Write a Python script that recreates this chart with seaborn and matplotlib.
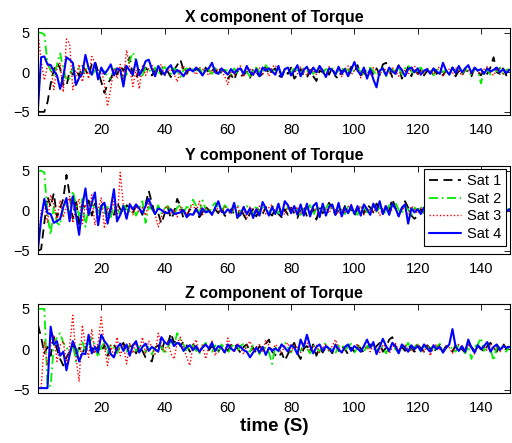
import numpy as np
import pandas as pd
import matplotlib
matplotlib.use("Agg")
import matplotlib.pyplot as plt
import seaborn as sns

t = list(range(0, 150))
sats = ["Sat 1", "Sat 2", "Sat 3", "Sat 4"]
titles = ["X component of Torque", "Y component of Torque", "Z component of Torque"]
xticks = [20, 40, 60, 80, 100, 120, 140]
yticks = [-5, 0, 5]

x_sat1 = [-5.0, -5.0, -5.0, -3.8, -1.5, 0.3, 1.2, 0.5, -1.6, -1.8, 0.2, -0.3, 0.4, -0.5, 0.8,
          0.3, -0.4, 1.0, 1.4, 0.1, -1.2, -2.6, -1.5, -0.8, 0.2, -0.3, 0.8, 0.2, 1.0, 1.9,
          -0.5, -0.8, 0.3, -0.2, 0.6, 0.1, -0.4, 0.2, 0.7, -0.3, 0.4, 0.1, -0.6, 0.3, 0.9,
          1.6, 0.3, -0.2, 0.5, 0.0, 0.4, 0.2, -0.3, 0.6, -0.1, 0.2, 0.5, -0.4, 0.1, 0.3,
          -0.8, -0.3, -1.0, 0.2, -0.5, -0.3, 0.1, -0.7, 0.4, 0.0, -0.5, -0.2, 0.8, -0.3, 0.2,
          0.5, -0.4, -0.6, 0.3, -0.2, 0.6, -0.8, -0.3, 0.4, -0.4, -0.7, 0.3, -0.5, -1.1, 0.2,
          0.0, 0.5, -0.3, 0.6, -0.5, -0.8, 0.2, 0.4, -0.2, 0.7, 0.1, 0.9, -0.4, 0.0, -0.5,
          0.3, -0.2, 0.5, -0.3, 1.0, 1.2, 0.4, -0.6, 0.1, 0.9, -0.8, -0.2, 0.7, -0.5, 0.6,
          -0.2, 0.3, -0.4, 0.2, -0.1, 0.4, -0.2, 0.1, -0.4, 0.3, -0.3, 0.6, -0.5, 0.2, -0.4,
          0.3, 0.1, -0.5, 0.5, 0.1, -0.4, 0.3, -0.2, 0.6, 1.9, 0.0, -0.2, 0.5, -0.4, 0.3]
x_sat2 = [5.0, 5.0, 4.8, 1.2, 0.2, -0.4, 0.9, 2.4, 0.5, -1.0, -0.8, 0.6, 0.4, 0.5, -0.2,
          0.3, 0.8, -0.3, 0.2, -0.2, 0.4, 0.1, -0.6, -0.8, 0.4, 0.5, 0.3, -0.6, -0.3, 1.5,
          2.5, 1.4, 0.2, -0.4, 0.5, 0.3, 0.0, 0.6, -0.3, 0.4, 0.7, 0.1, -0.2, 0.5, 0.2,
          -0.6, 0.3, 0.5, 0.2, 0.4, 0.1, 0.5, -0.1, 0.6, 0.3, -0.2, 0.4, 0.5, 0.1, 0.3,
          0.2, -0.3, 0.5, -0.1, 0.3, 0.4, 0.0, -0.5, 0.3, 0.6, 0.1, -0.2, 0.9, 0.2, 0.4,
          0.1, 0.5, -0.2, 0.4, 0.3, -0.1, 0.6, 0.2, -0.3, 0.5, 0.1, 0.4, -0.2, 0.3, 0.5,
          -0.1, 0.4, 0.2, 0.5, -0.3, 0.3, 0.6, 0.0, 0.4, -0.2, 0.3, 0.5, 0.1, -0.3, 0.4,
          0.6, 0.2, -0.4, 0.3, 0.5, -0.6, 0.2, 0.4, 0.0, 0.7, -0.3, 0.5, 0.9, 0.1, -0.2,
          0.4, 0.6, -0.1, 0.3, 0.5, -0.4, 0.2, 0.6, 0.0, 0.3, -0.3, 0.5, 0.2, 0.6, -0.2,
          0.4, 0.1, -0.4, 0.5, 0.3, -1.4, 0.2, 0.4, -0.3, 0.5, 0.1, 0.6, -0.2, 0.3, 0.4]
x_sat3 = [5.0, 1.5, -1.0, 0.8, 1.0, -2.2, 0.5, 1.2, -2.5, 4.2, 3.6, -2.2, -0.5, 1.0, -1.2,
          0.5, -0.8, 2.0, 1.2, -0.6, 0.4, -1.5, -4.3, -2.0, 0.5, -0.8, 1.0, -1.0, 2.8, 0.6,
          -1.8, 0.3, -2.1, 0.8, -0.4, 0.5, 1.0, -0.3, 0.6, 1.0, -0.5, 0.2, 0.4, -0.2, -1.2,
          0.3, 0.8, -0.2, 0.5, 0.2, -0.3, 0.6, 0.4, 0.1, -0.4, 0.3, -0.2, 0.5, 0.2, -0.5,
          -1.6, 0.2, -0.3, 0.5, 0.8, -0.6, 0.3, 0.5, -0.4, 0.2, 0.6, -0.2, 0.4, -0.5, 0.7,
          0.9, 0.2, -0.3, 0.4, 0.6, -0.5, 0.3, -0.2, 0.7, 0.1, -0.4, 0.5, 0.2, -0.3, 0.6,
          0.1, -0.4, 0.7, 0.3, -0.2, 0.5, -0.6, 0.4, 0.8, -0.3, 0.2, 0.5, -0.7, 0.3, 0.1,
          -0.3, 0.6, 0.2, -0.4, 0.5, 0.3, -0.2, 0.6, 0.1, -0.5, 0.4, 0.2, -0.3, 0.5, 0.8,
          -0.4, 0.3, -0.2, 0.5, 0.1, -0.3, 0.4, 0.7, -0.5, 0.2, 0.4, -0.2, 0.6, 0.1, -0.4,
          0.5, 0.2, -0.3, 0.6, 0.1, -0.2, 0.4, 0.7, 0.0, -0.4, 0.3, 0.5, -0.2, 0.2, 0.4]
x_sat4 = [-4.5, 1.9, 2.0, 1.0, 0.9, 0.2, -0.4, -2.1, -0.5, 1.9, 1.6, 1.2, -1.6, -0.7, -0.2,
          2.2, 0.5, -0.3, 1.2, -0.9, 0.6, -0.2, 0.3, 1.0, -0.4, 0.5, 0.3, -1.8, 0.8, 0.2,
          -0.3, 1.6, -0.4, 0.3, 1.4, 1.6, 0.4, -0.5, 0.8, 0.2, -0.3, 0.5, 0.9, -0.2, 0.3,
          0.0, -0.5, 0.2, 0.4, 0.1, 0.6, 0.2, -0.4, 0.3, 0.5, 1.2, 0.0, -0.2, 0.5, 0.1,
          -0.3, 0.4, -0.1, 0.3, 0.5, -0.2, 0.8, 0.0, -0.3, 0.4, -0.5, 0.6, 0.2, 0.5, 0.1,
          -0.3, 0.8, -0.6, 0.4, 0.6, -0.4, 0.2, 0.9, -0.5, 0.3, 0.7, -0.2, 0.6, 0.0, 0.8,
          0.2, -0.6, 0.5, 0.3, -0.3, 0.7, -0.2, 0.4, -0.5, 0.3, 1.3, 0.2, -0.3, 0.6, -0.8,
          0.4, -0.9, -1.9, 0.2, 0.5, -0.4, 0.6, 0.1, -0.2, 0.8, 0.3, -0.5, 0.4, 0.6, 0.0,
          0.5, -0.3, 0.2, 0.4, -0.2, 0.5, 0.1, -0.2, 1.2, 0.2, -0.3, 0.6, -0.1, 0.8, 0.0,
          0.5, 0.9, -0.1, 0.6, 0.2, 0.4, -0.2, 0.5, 0.1, 0.3, 0.6, 0.0, 0.4, -0.1, 0.3]

y_sat1 = [-5.0, -4.8, -1.5, 1.8, 0.5, 2.2, -0.8, 0.3, 1.5, 4.5, 2.0, -1.0, 1.5, -2.0, 0.8,
          0.4, 1.3, -0.6, 0.9, -0.3, 0.5, 1.2, -0.8, 0.3, -0.5, 1.0, 0.2, -0.3, 0.7, 0.4,
          -0.2, 0.6, 0.3, -0.5, 0.8, 2.5, 1.0, -0.5, -0.3, -1.6, -0.4, 0.5, -1.0, -0.3, 1.5,
          0.6, -1.0, -0.6, 0.2, -0.5, 0.3, -0.8, -0.2, 0.5, 0.1, -0.4, 0.2, -0.3, 0.5, -0.6,
          -0.7, 0.2, -0.4, -0.9, 0.3, -0.5, -1.2, -0.3, 0.2, -0.7, 0.1, -0.4, 0.5, -0.2, -0.6,
          0.3, -0.4, -0.8, 0.2, -0.5, 0.4, -0.3, -0.9, 0.2, 0.5, -0.7, -0.2, 0.3, -1.1, 0.4,
          -0.3, 0.2, 1.0, 0.3, -0.5, 0.1, -0.4, 0.6, -0.2, 0.3, -0.6, 0.2, 0.5, -0.3, 0.8,
          0.4, -0.2, 0.9, 0.3, -0.4, 0.6, 0.1, 1.5, 0.3, -0.5, 0.2, 1.2, 0.4, -0.6, -1.0,
          -0.6, 0.2, -0.3, 0.4, 0.6, 0.1, -0.4, 0.3, 0.2, -0.2, 0.5, 0.0, -0.3, 0.4, 0.1,
          -0.2, 0.6, 0.2, -0.3, 0.4, 1.0, 0.3, -0.1, 0.2, 0.5, -0.2, 0.3, 0.1, -0.3, 0.2]
y_sat2 = [5.0, 5.0, 4.8, -0.5, -3.0, 0.5, -1.5, -1.8, 0.4, 1.0, -0.5, 2.5, 0.8, -0.6, 1.5,
          -2.0, 0.4, 1.0, 0.2, -0.5, 0.8, -0.3, 0.5, -0.8, 0.6, 0.3, -0.4, 0.9, 0.2, -0.1,
          0.4, -0.6, 0.3, 1.2, -1.5, 0.5, 0.2, -0.4, 0.7, -0.3, 0.3, 0.6, 0.1, -0.5, 0.4,
          0.8, -0.2, 0.5, 0.3, 1.4, 0.6, -0.4, 1.3, 0.2, -0.3, 0.5, 1.0, 0.4, -0.2, 0.7,
          0.3, -0.5, 0.6, 0.8, -0.3, 0.4, 0.6, 0.1, -0.5, 0.7, -0.2, 0.5, 0.3, -0.4, 0.6,
          0.2, -0.3, 0.5, 0.1, 0.4, -0.2, 0.6, 0.3, -0.5, 0.4, 0.2, 0.7, -0.6, 0.3, 0.5,
          -0.2, 0.4, 0.8, 0.1, -0.3, 0.5, 0.2, -0.4, 0.6, 0.3, 0.0, -0.5, 0.4, 0.6, -0.2,
          0.3, 0.5, -0.1, 0.4, 0.2, -0.4, 0.7, 0.3, 1.0, 0.1, -0.3, 0.5, 0.2, -0.6, 0.4,
          0.1, 0.6, -0.2, 0.3, 0.5, -0.3, 0.4, 0.2, 0.6, -0.1, 0.3, 0.5, -0.2, 0.4, 0.1,
          0.3, -0.3, 0.5, 0.2, 0.4, -0.2, 0.6, 0.1, 0.3, -0.1, 0.4, 0.2, 0.5, 0.0, 0.3]
y_sat3 = [-4.8, 0.0, 1.0, -1.5, 2.0, 0.8, -1.2, 1.3, -0.8, 0.5, 1.8, -1.5, 0.3, 1.5, -1.6,
          0.8, -0.6, 2.0, -1.8, 0.2, 1.6, -2.2, 0.4, -0.3, 1.2, -1.5, 4.8, 0.6, -0.8, 1.0,
          -0.5, 0.8, -0.2, 0.4, -0.6, 1.0, 0.2, -0.4, -2.0, -0.8, 0.3, 0.6, -0.3, 0.2, -0.8,
          0.5, 0.0, -0.4, 0.3, 0.8, -0.2, 1.2, -0.5, 0.3, 0.1, -0.6, 0.4, 0.2, -0.3, 0.5,
          0.0, -0.4, 0.3, 0.6, -0.5, 0.2, -0.9, 0.5, 0.1, -0.3, 0.6, 0.2, -0.4, 0.4, 0.8,
          -0.2, 0.4, 0.1, -0.5, 0.6, 0.3, -0.2, 0.5, -0.4, 0.2, 0.7, -0.3, 0.4, 0.0, -0.6,
          0.5, 0.2, -0.3, 0.6, 0.1, -0.4, 0.3, -0.2, 0.5, 0.8, -0.3, 0.2, 0.6, -0.5, 0.3,
          0.1, -0.2, 0.5, -0.6, 0.3, 0.7, -0.3, 0.2, 0.5, -0.8, 0.4, 0.1, -0.4, 0.6, 0.2,
          -0.3, 0.4, 0.2, -0.5, 0.3, 0.6, 0.0, -0.3, 0.4, 0.2, -0.2, 0.5, 0.1, -0.4, 0.3,
          0.6, -0.1, 0.2, 0.4, -0.3, 0.5, 0.1, -0.2, 0.4, 0.7, -0.1, 0.3, 0.2, -0.4, 0.3]
y_sat4 = [-4.8, -1.0, 1.5, -0.3, -0.4, -1.5, -1.3, -1.0, 0.5, 1.6, -1.3, 1.8, -0.5, -3.0, 0.5,
          2.8, -0.5, 1.0, 2.3, -1.8, 0.6, 1.0, -1.6, 0.3, 2.7, -1.3, -0.5, 0.6, -1.0, 0.8,
          0.2, 0.8, 0.3, -0.3, 0.6, 1.5, 0.4, -0.4, 0.3, 0.1, -0.2, -0.3, 0.2, -0.4, -0.3,
          -0.2, 0.1, -0.8, -0.4, -0.5, 0.2, -0.5, 0.3, -0.2, 0.0, -0.5, 0.4, 1.2, -0.1, -0.3,
          0.2, -0.2, 1.0, -0.8, -0.5, 0.5, -0.4, 0.3, -0.9, 0.2, -0.6, 1.1, 0.3, -0.6, 0.5,
          -0.4, 0.9, -0.6, 1.2, 0.7, -0.3, 0.6, -0.5, 0.8, -0.6, 0.9, -0.7, 0.6, 1.0, -0.8,
          0.9, -0.6, 0.5, 0.8, -0.5, 1.0, -0.7, 0.4, -0.3, 0.7, -0.4, 0.6, -0.6, 0.8, 0.2,
          -0.5, 0.9, 0.0, 1.2, -0.4, 0.6, -0.5, 0.9, 0.3, -0.7, 0.4, 0.8, -1.6, 0.3, -0.2,
          0.2, -0.4, 0.4, 0.1, -0.3, 0.5, 0.2, -0.3, 0.4, 0.0, -0.2, 0.3, 0.1, -0.4, 0.2,
          0.4, -0.2, 0.3, 0.1, -0.3, 0.5, 0.2, 0.0, 0.4, -0.2, 0.3, 0.1, 0.5, -0.1, 0.2]

z_sat1 = [3.0, 1.5, -0.5, 0.3, -0.8, 1.5, 0.0, -1.2, -2.0, -1.0, -0.3, 0.5, -0.8, 0.2, -0.5,
          0.3, -0.4, 0.2, -0.6, 0.4, -0.3, 0.5, -0.8, 0.1, 0.6, -0.2, 0.3, 0.8, -0.4, 0.5,
          0.2, -0.5, 0.4, -0.2, -1.0, -1.2, -1.5, 0.2, 0.5, -0.3, 1.0, 0.6, 2.0, 0.8, 1.2,
          0.4, 1.0, 0.5, -0.3, 0.6, 0.1, -0.4, 0.3, 0.7, -0.1, 0.4, 0.0, -0.3, 0.5, 0.2,
          -0.2, 0.5, 0.8, 0.1, -0.4, 0.3, 0.6, -0.3, 0.2, -0.5, 0.4, 0.0, 0.7, 1.2, -0.3,
          -0.7, -1.0, -0.4, -1.4, -0.6, 0.2, 0.8, -0.5, -1.2, 0.1, 0.4, -0.3, 0.6, -0.8, 0.2,
          -0.4, 0.3, 0.1, -0.5, 0.6, -0.2, 0.4, 0.0, -0.6, 0.2, -0.3, 0.5, 0.1, -0.4, 0.3,
          0.6, -0.2, 0.4, 0.8, -0.3, 0.2, 1.2, 1.5, 0.4, -0.4, 0.3, -0.2, 0.5, 0.1, -0.3,
          0.4, 0.2, -0.3, 0.5, 0.1, -0.5, 0.3, 0.6, -0.2, 0.4, 0.1, -0.3, 0.5, 0.2, 0.0,
          -0.4, 0.6, 0.3, -0.2, 0.5, 0.1, -0.3, 0.4, 0.8, 0.2, -0.3, 0.5, 0.7, 0.1, 0.4]
z_sat2 = [5.0, 5.0, 5.0, -4.5, -4.5, 0.5, 1.5, 2.0, 0.8, 0.3, -0.6, 0.8, -1.5, 0.5, 1.0,
          -0.3, 0.6, 1.4, 0.5, -1.0, 0.3, 0.8, -0.4, 0.6, 0.2, -0.5, 0.4, 0.1, -0.3, 0.5,
          0.8, -0.2, 0.3, 0.6, -0.4, 0.5, -0.6, 0.3, -0.2, 0.4, -0.6, 0.2, 1.0, 0.5, 2.0,
          1.2, 0.6, -0.3, 0.4, 0.5, -0.2, -0.6, 0.3, 0.8, 0.2, -0.3, 0.5, -0.4, 0.6, 0.1,
          -0.5, 0.3, 0.6, -0.2, 0.4, 0.7, 0.0, -0.3, 0.5, 0.2, -0.6, 0.4, 0.1, -0.4, -1.8,
          0.3, -0.3, 0.6, 0.9, 0.2, -0.4, 0.5, 0.3, -0.2, 0.6, 0.1, -0.5, 0.4, 0.2, -0.3,
          0.5, 0.8, -0.2, 0.3, -0.5, 0.4, 0.6, -0.1, 0.3, 0.7, -0.4, 0.2, 0.5, -0.3, 0.4,
          0.1, 0.6, -0.3, 0.4, 0.2, -0.5, 0.3, 0.6, 0.0, -0.4, 0.5, 0.2, 0.8, -0.2, 0.3,
          0.6, -0.3, 0.4, 0.1, 0.5, -0.2, 0.3, 0.7, -0.4, 0.2, 0.5, 0.0, -0.3, 0.6, 0.2,
          -0.5, 0.4, -1.2, 0.3, 0.6, 1.4, -0.2, 0.4, 0.1, -1.4, 0.3, 0.5, 0.2, -0.3, 0.4]
z_sat3 = [-4.8, -4.8, 1.0, -2.0, 0.5, 1.8, -1.5, 0.5, 1.0, -1.8, 0.3, 4.2, -1.0, -4.0, 3.0,
          0.5, -1.0, 2.5, -0.5, 0.8, 4.0, 0.3, -2.0, 0.5, -1.0, 1.5, -0.8, 0.4, -1.8, 0.8,
          -0.5, 1.0, -0.3, 1.5, -0.5, 1.0, 0.3, -0.6, 2.0, 0.5, -0.3, 1.0, -0.5, -1.2, 0.8,
          1.5, 0.2, -1.0, -2.0, 0.5, 1.2, -0.5, 0.6, -1.2, 0.3, 1.0, -0.8, 0.5, 0.2, -0.5,
          1.4, 0.3, -0.4, 0.8, 0.2, -0.6, 0.5, 1.0, -0.2, 0.3, 0.6, -0.4, 1.2, 0.5, -0.3,
          0.6, 0.2, -0.5, 0.4, 0.8, -0.3, 0.5, 0.2, -0.4, 0.6, 0.9, -0.2, 0.3, 0.5, -0.4,
          0.2, 0.6, -0.3, 0.4, 1.2, 0.3, -0.5, 0.2, 0.5, -0.2, 0.4, 0.6, -0.4, 0.3, 0.2,
          -0.3, 0.5, 0.1, -0.4, 0.6, 0.3, -0.5, 0.2, 0.7, -0.2, 0.4, 0.5, 0.0, -0.3, 0.4,
          0.6, 0.2, -0.3, 0.5, -0.8, 0.3, 0.6, 0.0, -0.3, 0.4, 0.2, -0.5, 0.3, 0.6, 0.1,
          -0.3, 0.5, 0.2, -0.6, 0.4, 0.1, 0.3, -0.2, 0.5, 0.0, 0.4, -0.3, 0.2, 0.5, 0.1]
z_sat4 = [-4.8, -4.8, -4.8, -4.8, 2.8, 0.6, 1.0, -0.8, -0.3, -2.6, -0.7, 1.0, 0.0, -1.5, -0.5,
          -0.6, 1.8, -0.5, 0.3, -0.4, 1.8, 1.0, 0.5, -0.6, -1.0, 0.2, 0.7, -0.2, 0.6, -0.8,
          0.5, 1.0, -0.4, 0.3, 0.7, -0.2, 0.3, 0.0, -0.3, 1.5, 0.9, 0.6, 1.2, 0.4, 0.8,
          0.6, -0.2, 0.3, 0.5, -0.1, 0.4, -0.3, 0.2, 0.6, 0.1, 0.8, -0.2, 0.4, 0.2, -0.4,
          0.6, 0.1, -0.2, 0.5, 0.3, -0.1, -0.3, -1.0, -0.4, 0.2, -0.4, 0.3, -0.7, 0.2, -0.2,
          0.1, -0.2, 0.6, 0.2, -0.3, 0.5, 0.2, -0.6, 1.2, 0.3, 1.8, 0.4, -0.5, 0.3, 0.6,
          -0.2, 0.4, 0.1, -0.3, 0.5, 0.0, -0.4, 0.3, 0.6, -0.2, 0.4, 0.1, -0.3, 0.4, 1.2,
          0.2, 0.9, -0.6, 0.3, 1.3, 0.4, -0.2, 0.8, 0.3, -0.5, 0.6, 0.2, -0.3, 0.5, 0.0,
          0.4, -0.2, 0.6, 0.1, -0.3, 0.5, 0.0, 0.3, -0.4, 0.2, 0.6, 2.5, 0.3, -0.2, 0.4,
          -0.3, 1.2, 0.2, -0.4, 0.5, 0.0, 0.4, 0.9, -0.3, 0.3, 0.6, -0.1, 0.4, 0.2, 0.3]

panels = [
    [x_sat1, x_sat2, x_sat3, x_sat4],
    [y_sat1, y_sat2, y_sat3, y_sat4],
    [z_sat1, z_sat2, z_sat3, z_sat4],
]

sns.set_style("white")
plt.rcParams["font.family"] = ["Liberation Sans", "DejaVu Sans"]
plt.rcParams["text.color"] = "black"
plt.rcParams["axes.labelcolor"] = "black"
plt.rcParams["xtick.color"] = "black"
plt.rcParams["ytick.color"] = "black"

colors = ["black", "#00ee00", "red", "blue"]
dashes = [(5, 3), (5, 2, 1, 2), (1, 1.5), None]
widths = [1.3, 1.3, 1.0, 1.5]

fig = plt.figure(figsize=(5.12, 4.43), dpi=100)
rects = [
    [0.0742, 0.7404, 0.922, 0.1964],
    [0.0742, 0.4266, 0.922, 0.1986],
    [0.0742, 0.1129, 0.922, 0.2009],
]

for pi, (rect, series, title) in enumerate(zip(rects, panels, titles)):
    ax = fig.add_axes(rect)
    handles = []
    for si, (name, vals) in enumerate(zip(sats, series)):
        df = pd.DataFrame({"t": t, "v": vals})
        sns.lineplot(data=df, x="t", y="v", ax=ax, color=colors[si],
                     linewidth=widths[si], label=name, legend=False)
        ln = ax.get_lines()[-1]
        if dashes[si] is not None:
            ln.set_dashes(dashes[si])
        handles.append(ln)
    ax.set_xlim(0, 149.2)
    ax.set_ylim(-5.4, 5.6)
    ax.set_xticks(xticks)
    ax.set_yticks(yticks)
    ax.set_xlabel("")
    ax.set_ylabel("")
    ax.set_title(title, fontsize=11.5, fontweight="bold", pad=4, color="black")
    ax.tick_params(direction="in", top=True, right=True, length=4, width=0.6,
                   labelsize=10.5, pad=6, colors="black")
    for sp in ax.spines.values():
        sp.set_linewidth(0.8)
        sp.set_color("black")
    if pi == 1:
        leg = ax.legend(handles=handles, labels=sats, loc="upper right",
                        bbox_to_anchor=(0.992, 0.966), borderaxespad=0,
                        fontsize=10.5, handlelength=2.2, frameon=True,
                        fancybox=False, framealpha=1, edgecolor="black",
                        labelspacing=0.25, borderpad=0.35, handletextpad=0.4)
        leg.get_frame().set_linewidth(0.8)
        for txt in leg.get_texts():
            txt.set_color("black")
    if pi == 2:
        ax.set_xlabel("time (S)", fontsize=13.5, fontweight="bold", labelpad=2,
                      color="black")

fig.savefig("out.png", dpi=100)
